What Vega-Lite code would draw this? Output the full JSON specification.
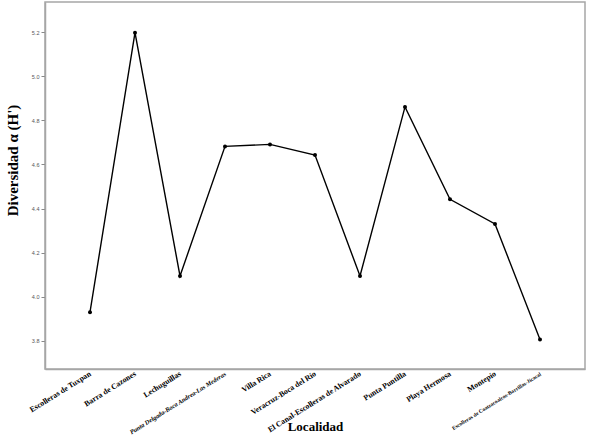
{
  "$schema": "https://vega.github.io/schema/vega-lite/v6.json",
  "autosize": "none",
  "width": 540,
  "height": 367,
  "padding": {"left": 45, "top": 2, "right": 5, "bottom": 67},
  "background": "white",
  "config": {
    "view": {"stroke": "#a6a6a6", "strokeWidth": 1.5},
    "axis": {"grid": false}
  },
  "data": {
    "values": [
      {"Localidad": "Escolleras de Tuxpan", "H": 3.930},
      {"Localidad": "Barra de Cazones", "H": 5.198},
      {"Localidad": "Lechuguillas", "H": 4.094},
      {"Localidad": "Punta Delgada-Boca Andrea-Las Mederas", "H": 4.682},
      {"Localidad": "Villa Rica", "H": 4.691},
      {"Localidad": "Veracruz-Boca del Río", "H": 4.643},
      {"Localidad": "El Canal-Escolleras de Alvarado", "H": 4.094},
      {"Localidad": "Punta Puntilla", "H": 4.861},
      {"Localidad": "Playa Hermosa", "H": 4.442},
      {"Localidad": "Montepío", "H": 4.330},
      {"Localidad": "Escolleras de Coatzacoalcos-Barrillas-Jicacal", "H": 3.806}
    ]
  },
  "encoding": {
    "x": {
      "field": "Localidad",
      "type": "nominal",
      "sort": null,
      "scale": {"type": "point", "padding": 1},
      "axis": {
        "title": "Localidad",
        "titleFont": "Liberation Serif",
        "titleFontWeight": "bold",
        "titleFontSize": 13,
        "titleColor": "black",
        "titleY": 51,
        "titleBaseline": "top",
        "labelAngle": -32,
        "labelAlign": "right",
        "labelBaseline": "middle",
        "labelFont": "Liberation Serif",
        "labelFontWeight": "bold",
        "labelFontSize": {"expr": "length(datum.label) > 40 ? 5.4 : (length(datum.label) > 33 ? 6.4 : 7.8)"},
        "labelFontStyle": {"condition": {"test": "indexof(datum.label, 'Punta Delgada') >= 0", "value": "italic"}, "value": "normal"},
        "labelColor": "black",
        "labelPadding": 4,
        "labelOverlap": false,
        "labelLimit": 300,
        "ticks": false,
        "domainColor": "#a6a6a6",
        "domainWidth": 1.5
      }
    },
    "y": {
      "field": "H",
      "type": "quantitative",
      "scale": {"domain": [3.672, 5.337], "nice": false, "zero": false},
      "axis": {
        "title": "Diversidad α (H')",
        "titleFont": "Liberation Serif",
        "titleFontWeight": "bold",
        "titleFontSize": 15,
        "titleColor": "black",
        "titleY": 158,
        "titlePadding": 11,
        "values": [3.8, 4.0, 4.2, 4.4, 4.6, 4.8, 5.0, 5.2],
        "format": ".1f",
        "labelFont": "Liberation Sans",
        "labelFontSize": 5.5,
        "labelColor": "#555555",
        "labelPadding": 2,
        "tickSize": 4,
        "tickColor": "#888888",
        "domainColor": "#a6a6a6",
        "domainWidth": 1.5
      }
    }
  },
  "layer": [
    {"mark": {"type": "line", "color": "black", "strokeWidth": 1.4}},
    {"mark": {"type": "point", "filled": true, "color": "black", "size": 16, "opacity": 1}}
  ]
}
